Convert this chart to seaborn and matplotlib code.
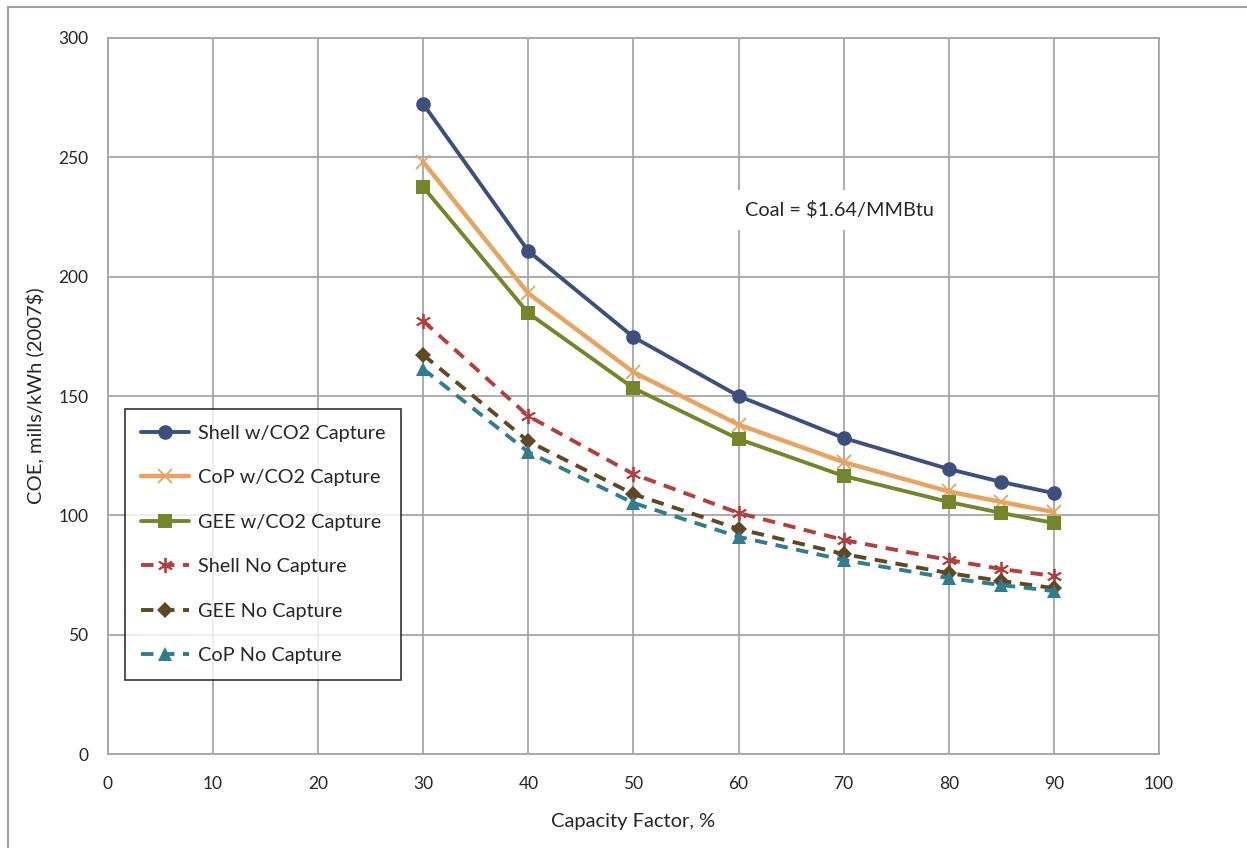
import numpy as np
import pandas as pd
import matplotlib.pyplot as plt
import seaborn as sns
from matplotlib.patches import Rectangle

capacity = [30, 40, 50, 60, 70, 80, 85, 90]

series_names = ['Shell w/CO2 Capture', 'CoP w/CO2 Capture', 'GEE w/CO2 Capture',
                'Shell No Capture', 'GEE No Capture', 'CoP No Capture']

shell_co2 = [272.3, 210.7, 174.7, 150.0, 132.4, 119.4, 114.0, 109.3]
cop_co2 = [248.0, 193.0, 160.0, 138.0, 122.3, 110.0, 105.6, 101.4]
gee_co2 = [237.5, 184.7, 153.3, 132.0, 116.5, 105.6, 101.0, 96.8]
shell_no = [181.4, 141.6, 117.3, 101.0, 89.7, 81.3, 77.5, 74.6]
gee_no = [167.2, 131.0, 108.9, 94.3, 83.8, 75.8, 72.5, 69.5]
cop_no = [161.3, 126.5, 105.2, 91.0, 81.3, 73.7, 70.8, 68.3]

x_ticks = list(range(0, 101, 10))
y_ticks = list(range(0, 301, 50))

colors = {'Shell w/CO2 Capture': '#3C5080', 'CoP w/CO2 Capture': '#E9A35E',
          'GEE w/CO2 Capture': '#74862A', 'Shell No Capture': '#B23F3D',
          'GEE No Capture': '#5F4822', 'CoP No Capture': '#2F7D8E'}
markers = {'Shell w/CO2 Capture': 'o', 'CoP w/CO2 Capture': 'x',
           'GEE w/CO2 Capture': 's', 'Shell No Capture': (6, 2, 0),
           'GEE No Capture': 'D', 'CoP No Capture': '^'}
dashes = {'Shell w/CO2 Capture': '', 'CoP w/CO2 Capture': '',
          'GEE w/CO2 Capture': '', 'Shell No Capture': (3.2, 2.2),
          'GEE No Capture': (3.2, 2.2), 'CoP No Capture': (3.2, 2.2)}
msizes = {'Shell w/CO2 Capture': 10.5, 'CoP w/CO2 Capture': 10,
          'GEE w/CO2 Capture': 10, 'Shell No Capture': 11,
          'GEE No Capture': 8, 'CoP No Capture': 9.5}

values = [shell_co2, cop_co2, gee_co2, shell_no, gee_no, cop_no]
df = pd.DataFrame([(n, c, v) for n, vals in zip(series_names, values)
                   for c, v in zip(capacity, vals)],
                  columns=['series', 'cf', 'coe'])

sns.set_theme(style='white')
plt.rcParams['font.family'] = ['Lato', 'DejaVu Sans']

fig = plt.figure(figsize=(12.47, 8.48), dpi=100)
ax = fig.add_axes([0.0866, 0.1108, 0.8428, 0.8444])

fig.patches.append(Rectangle((8 / 1247, -0.1), 1.2, 1 - 7 / 848 + 0.1,
                             transform=fig.transFigure, fill=False,
                             edgecolor='#A0A0A0', linewidth=1.5, zorder=0))

for name in series_names:
    sub = df[df['series'] == name]
    is_x = name in ('CoP w/CO2 Capture', 'Shell No Capture')
    sns.lineplot(data=sub, x='cf', y='coe', ax=ax, color=colors[name],
                 marker=markers[name], markersize=msizes[name],
                 markeredgewidth=1.3 if is_x else 0,
                 markeredgecolor=colors[name],
                 linewidth=3.2 if name == 'CoP w/CO2 Capture' else 2.8,
                 linestyle='--' if dashes[name] else '-',
                 label=name, zorder=3)

# dashed pattern for the "No Capture" cases
for name in ('Shell No Capture', 'GEE No Capture', 'CoP No Capture'):
    ax.lines[series_names.index(name)].set_dashes(dashes[name])

ax.set_xlim(0, 100)
ax.set_ylim(0, 300)
ax.set_xticks(x_ticks)
ax.set_yticks(y_ticks)
ax.grid(True, color='#A6A6A6', linewidth=1.3)
ax.set_axisbelow(True)
for s in ax.spines.values():
    s.set_color('#A6A6A6')
    s.set_linewidth(1.3)
ax.tick_params(axis='both', which='both', direction='out', length=6,
               width=1.3, color='#A6A6A6', labelsize=12.5, pad=10)
ax.tick_params(axis='y', pad=8)
ax.set_xlabel('Capacity Factor, %', fontsize=14.5, labelpad=15)
ax.set_ylabel('COE, mills/kWh (2007$)', fontsize=14.5, labelpad=10)

ax.text(60.6, 228, 'Coal = $1.64/MMBtu', fontsize=14.3, va='center', ha='left',
        bbox=dict(boxstyle='square,pad=0.55', facecolor='white', edgecolor='none'),
        zorder=2)

leg = ax.legend(loc='upper left', bbox_to_anchor=(0.0162, 0.4818),
                fontsize=14.3, frameon=True, fancybox=False, edgecolor='black',
                labelspacing=1.38, handlelength=2.4, handletextpad=0.45,
                borderpad=0.8, borderaxespad=0)
leg.get_frame().set_linewidth(1.2)

fig.savefig('out.png', dpi=100)
